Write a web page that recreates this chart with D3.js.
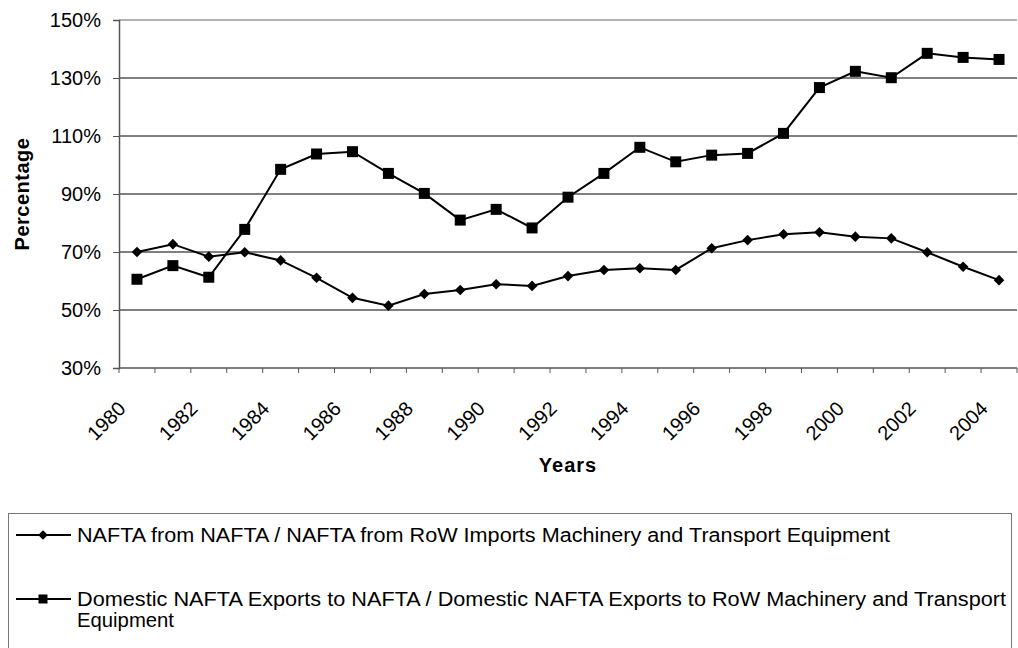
<!DOCTYPE html>
<html>
<head>
<meta charset="utf-8">
<script src="https://cdn.jsdelivr.net/npm/d3@7"></script>
<style>
  body { margin: 0; background: #fff; }
  svg { display: block; font-family: Arial, "Liberation Sans", sans-serif; }
</style>
</head>
<body>
<script>
// categories (one per year) and the labels actually shown on the axis
let years = ["1980","1981","1982","1983","1984","1985","1986","1987","1988","1989",
             "1990","1991","1992","1993","1994","1995","1996","1997","1998","1999",
             "2000","2001","2002","2003","2004"]
let yearLabels = ["1980","1982","1984","1986","1988","1990","1992","1994","1996","1998","2000","2002","2004"]

// percentages
let importsShare = [70.0, 72.7, 68.4, 69.9, 67.1, 61.1, 54.2, 51.5, 55.5, 56.9,
                    58.9, 58.3, 61.7, 63.8, 64.4, 63.8, 71.3, 74.1, 76.1, 76.8,
                    75.3, 74.7, 69.9, 64.9, 60.3]
let exportsShare = [60.6, 65.3, 61.3, 77.8, 98.5, 103.8, 104.6, 97.1, 90.2, 81.0,
                    84.7, 78.3, 88.9, 97.1, 106.1, 101.1, 103.4, 104.0, 110.9, 126.7,
                    132.3, 130.1, 138.5, 137.1, 136.4]

let yTicks = [30, 50, 70, 90, 110, 130, 150]

let seriesNames = [
    ["NAFTA from NAFTA / NAFTA from RoW Imports Machinery and Transport Equipment"],
    ["Domestic NAFTA Exports to NAFTA / Domestic NAFTA Exports to RoW Machinery and Transport", "Equipment"]
]

let w = 1018
let h = 648
let plotL = 119, plotR = 1017, plotT = 20, plotB = 368

let svg = d3.select('body').append('svg')
    .attr('width', w)
    .attr('height', h)

let x = d3.scaleBand().domain(years).range([plotL, plotR]).padding(0)
let y = d3.scaleLinear().domain([30, 150]).range([plotB, plotT])

// gridlines
svg.append('g').selectAll('line')
    .data(yTicks.filter(d => d > 30))
    .enter().append('line')
    .attr('x1', plotL).attr('x2', plotR)
    .attr('y1', d => y(d)).attr('y2', d => y(d))
    .attr('stroke', d => d == 150 ? '#999' : '#000')
    .attr('stroke-width', d => d == 150 ? 1.5 : 1)

// y axis
let yAxis = svg.append('g')
    .attr('transform', `translate(${plotL},0)`)
    .call(d3.axisLeft(y).tickValues(yTicks).tickSize(6).tickPadding(12).tickFormat(d => d + '%'))
yAxis.select('.domain').attr('stroke', '#555').attr('stroke-width', 1.5)
yAxis.selectAll('.tick line').attr('stroke', '#555')
yAxis.selectAll('.tick text').attr('font-size', 20).attr('fill', '#000')
    .attr('font-family', 'Arial, "Liberation Sans", sans-serif')

// x axis: ticks on category boundaries
let xg = svg.append('g')
xg.append('line')
    .attr('x1', plotL).attr('x2', plotR)
    .attr('y1', plotB).attr('y2', plotB)
    .attr('stroke', '#555').attr('stroke-width', 1.5)
xg.selectAll('line.tk')
    .data(years.concat(['end']))
    .enter().append('line')
    .attr('class', 'tk')
    .attr('x1', d => d == 'end' ? x.range()[1] : x(d))
    .attr('x2', d => d == 'end' ? x.range()[1] : x(d))
    .attr('y1', plotB).attr('y2', plotB + 5)
    .attr('stroke', '#555')
xg.selectAll('text')
    .data(yearLabels)
    .enter().append('text')
    .attr('transform', d => `translate(${x(d) + x.bandwidth() / 2 - 10},${plotB + 42}) rotate(-45)`)
    .attr('text-anchor', 'end')
    .attr('font-size', 20)
    .text(d => d)

// axis titles
svg.append('text')
    .attr('transform', `translate(${29},${(plotT + plotB) / 2}) rotate(-90)`)
    .attr('text-anchor', 'middle')
    .attr('font-size', 20).attr('font-weight', 'bold')
    .attr('letter-spacing', 0.5)
    .text('Percentage')
svg.append('text')
    .attr('x', (plotL + plotR) / 2).attr('y', 472)
    .attr('text-anchor', 'middle')
    .attr('font-size', 20).attr('font-weight', 'bold')
    .attr('letter-spacing', 1)
    .text('Years')

// lines
let line = d3.line()
    .x((d, i) => x(years[i]) + x.bandwidth() / 2)
    .y(d => y(d))

let diamond = d3.symbol().type(d3.symbolDiamond2).size(72)
let square = d3.symbol().type(d3.symbolSquare).size(121)

function drawSeries(vals, sym) {
    svg.append('path')
        .datum(vals)
        .attr('d', line)
        .attr('fill', 'none')
        .attr('stroke', '#000')
        .attr('stroke-width', 2)
    svg.append('g').selectAll('path')
        .data(vals).enter().append('path')
        .attr('d', sym)
        .attr('transform', (d, i) => `translate(${x(years[i]) + x.bandwidth() / 2},${y(d)})`)
        .attr('fill', '#000')
}
drawSeries(importsShare, diamond)
drawSeries(exportsShare, square)

// legend
let lg = svg.append('g')
lg.append('rect')
    .attr('x', 8.5).attr('y', 513.5)
    .attr('width', 1003).attr('height', 145)
    .attr('fill', 'none').attr('stroke', '#777')

let legendRows = [535, 599]
let legendSyms = [d3.symbol().type(d3.symbolDiamond2).size(60), d3.symbol().type(d3.symbolSquare).size(81)]
let legendLen = [[813], [929, 97]]

seriesNames.forEach((names, k) => {
    let ly = legendRows[k]
    lg.append('line')
        .attr('x1', 16).attr('x2', 71)
        .attr('y1', ly).attr('y2', ly)
        .attr('stroke', '#000').attr('stroke-width', 2)
    lg.append('path')
        .attr('d', legendSyms[k])
        .attr('transform', `translate(43,${ly})`)
        .attr('fill', '#000')
    names.forEach((t, j) => {
        lg.append('text')
            .attr('x', 77).attr('y', ly + j * 21)
            .attr('dy', '0.35em')
            .attr('font-size', 20)
            .attr('textLength', legendLen[k][j])
            .attr('lengthAdjust', 'spacingAndGlyphs')
            .text(t)
    })
})
</script>
</body>
</html>
